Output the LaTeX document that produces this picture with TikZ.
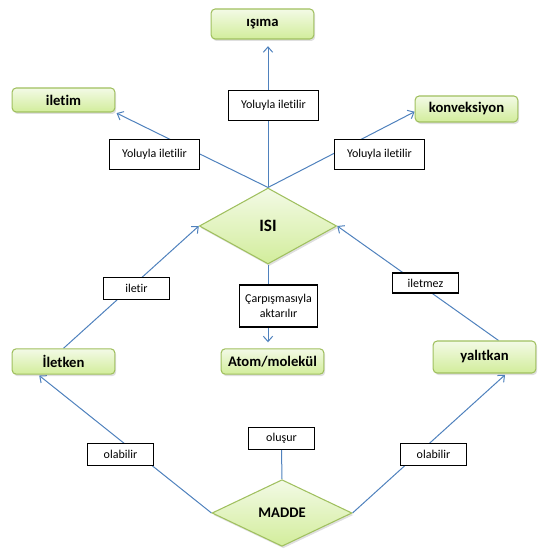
\documentclass[tikz,border=0pt]{standalone}
\usepackage{fontspec}
\setmainfont{Carlito}[Ligatures=NoCommon]
\usetikzlibrary{shapes.geometric,arrows.meta,shadows,backgrounds}
\definecolor{linkblue}{RGB}{79,129,189}
\definecolor{boxedge}{RGB}{160,192,95}
\definecolor{boxtop}{RGB}{243,250,230}
\definecolor{boxbot}{RGB}{210,237,155}
\tikzset{
  kutu/.style={draw=boxedge, line width=0.8pt, rounded corners=3pt,
    top color=boxtop, bottom color=boxbot, minimum width=77pt, minimum height=19pt,
    font=\bfseries\fontsize{11}{13}\selectfont,
    drop shadow={opacity=0.25, shadow xshift=1pt, shadow yshift=-1.5pt}},
  karo/.style={diamond, draw=boxedge, line width=0.8pt, inner sep=0pt,
    top color=boxtop, bottom color=boxbot,
    drop shadow={opacity=0.25, shadow xshift=1pt, shadow yshift=-1.5pt}},
  etiket/.style={draw=black, line width=0.8pt, fill=white, inner sep=2pt, align=center,
    font=\fontsize{9}{11}\selectfont},
  ok/.style={draw=linkblue, line width=0.75pt, -{Straight Barb[length=4pt,width=7pt]}},
  cizgi/.style={draw=linkblue, line width=0.75pt}
}
\begin{document}
\begin{tikzpicture}[x=0.75pt, y=-0.75pt]
  \useasboundingbox (0,0) rectangle (559,549);
  % kutular
  \node[kutu, minimum height=22.5pt] (isima) at (262.5,24) {ışıma};
  \node[kutu, minimum height=18pt] (iletim) at (63.5,100) {iletim};
  \node[kutu, minimum height=19.5pt] (konv) at (466.5,109) {konveksiyon};
  \node[kutu] (atom) at (272.5,361.5) {Atom/molekül};
  \node[kutu] (iletken) at (63.5,361.5) {İletken};
  \node[kutu, minimum height=24pt] (yalitkan) at (484.5,357) {yalıtkan};
  \node[karo, minimum width=103pt, minimum height=57pt,
    font=\bfseries\fontsize{13}{15}\selectfont] (isi) at (268,226) {ISI};
  \node[karo, minimum width=105pt, minimum height=50pt,
    font=\bfseries\fontsize{11}{13}\selectfont] (madde) at (282,513) {MADDE};
  % etiketler
  \node[etiket, minimum width=68pt, minimum height=23pt] (yol1) at (273.5,105.5) {Yoluyla iletilir};
  \node[etiket, minimum width=67pt, minimum height=22pt] (yol2) at (154.5,154.5) {Yoluyla iletilir};
  \node[etiket, minimum width=67pt, minimum height=22pt] (yol3) at (379.5,154.5) {Yoluyla iletilir};
  \node[etiket, minimum width=59pt, minimum height=31.5pt] (carp) at (278.5,306) {Çarpışmasıyla\\aktarılır};
  \node[etiket, minimum width=49pt, minimum height=16pt] (iletir) at (136.5,288.5) {iletir};
  \node[etiket, minimum width=49pt, minimum height=15pt] (iletmez) at (425.5,283) {iletmez};
  \node[etiket, minimum width=49pt, minimum height=16pt] (olab1) at (120.5,454.5) {olabilir};
  \node[etiket, minimum width=49pt, minimum height=16pt] (olab2) at (433.5,454.5) {olabilir};
  \node[etiket, minimum width=49pt, minimum height=16pt] (olusur) at (281.5,438.5) {oluşur};
  % baglantilar
  \begin{pgfonlayer}{background}
    \draw[ok, shorten >=5pt] (isi.north) -- (isi.north |- isima.south);
    \draw[ok, shorten >=1pt] (isi.north) -- (iletim.south east);
    \draw[ok] (isi.north) -- (konv.183);
    \draw[ok, shorten >=4.5pt] (isi.south) -- (isi.south |- atom.north);
    \draw[ok] (iletken.north) -- (isi.west);
    \draw[ok] ([xshift=10.5pt]yalitkan.north) -- (isi.east);
    \draw[ok, shorten >=1pt] (madde.west) -- ([xshift=-19pt]iletken.south);
    \draw[ok, shorten >=1.5pt] (madde.east) -- ([xshift=16.5pt]yalitkan.south);
    \draw[cizgi] (madde.north) -- (olusur.south);
  \end{pgfonlayer}
\end{tikzpicture}
\end{document}
